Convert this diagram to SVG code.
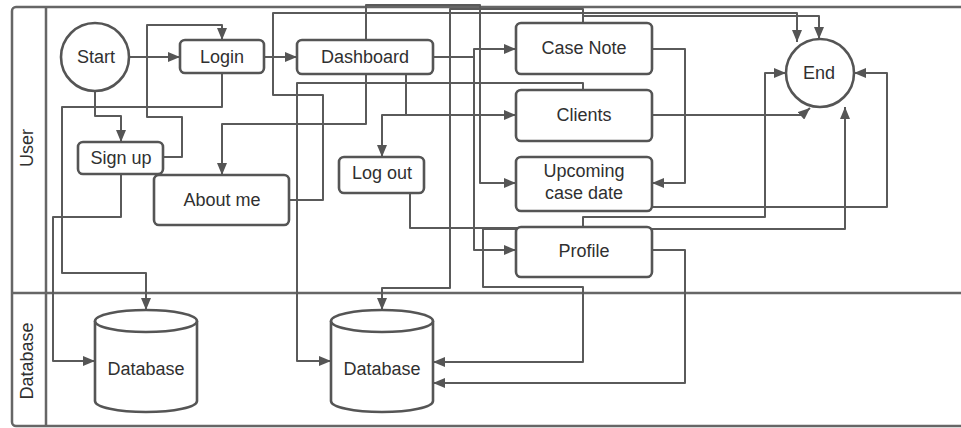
<svg xmlns="http://www.w3.org/2000/svg" width="961" height="428" viewBox="0 0 961 428">
  <defs>
    <marker id="arrow" viewBox="0 0 12 10" markerWidth="12" markerHeight="10" refX="12" refY="5" markerUnits="userSpaceOnUse" orient="auto">
      <path d="M0,0 L12,5 L0,10 z" fill="#555"/>
    </marker>
    <style>
      .lane { fill: none; stroke: #666; stroke-width: 2.5; }
      .box { fill: #fff; stroke: #555; stroke-width: 2.6; }
      .edge { fill: none; stroke: #5a5a5a; stroke-width: 2; stroke-linejoin: round; }
      .arr { marker-end: url(#arrow); }
      text { font-family: "Liberation Sans", Arial, sans-serif; font-size: 18px; fill: #303030; text-anchor: middle; }
    </style>
  </defs>

  <rect width="961" height="428" fill="#fff"/>

  <!-- swimlane frame -->
  <g id="lanes">
    <rect class="lane" x="12" y="7" width="960" height="419" rx="4"/>
    <line class="lane" x1="46" y1="7" x2="46" y2="426"/>
    <line class="lane" x1="12" y1="293" x2="961" y2="293"/>
    <text transform="translate(33,148) rotate(-90)">User</text>
    <text transform="translate(33,361) rotate(-90)">Database</text>
  </g>

  <!-- connectors -->
  <g id="connectors">
    <path class="edge arr" d="M128,57 H180"/>
    <path class="edge arr" d="M264,57 H297"/>
    <path class="edge arr" d="M95,91 V116 H121 V142"/>
    <path class="edge arr" d="M163,157 H182 V117 H147 V25 H222 V40"/>
    <path class="edge arr" d="M222,73 V107 H62 V273 H146 V310"/>
    <path class="edge arr" d="M121,174 V217 H53 V361 H95"/>
    <path class="edge arr" d="M433,57 H474 V49 H516"/>
    <path class="edge arr" d="M433,57 H474 V250 H516"/>
    <path class="edge arr" d="M366,40 V5 H480 V183 H516"/>
    <path class="edge arr" d="M366,74 V124 H222 V175"/>
    <path class="edge arr" d="M406,74 V115 H382 V157"/>
    <path class="edge arr" d="M406,74 V115 H516"/>
    <path class="edge arr" d="M583,90 V83 H297 V361 H331"/>
    <path class="edge arr" d="M289,200 H323 V95 H273 V13 H797 V42"/>
    <path class="edge arr" d="M583,23 V16 H819 V39"/>
    <path class="edge arr" d="M652,49 H685 V183 H652"/>
    <path class="edge arr" d="M652,115 H802 L810,108"/>
    <path class="edge arr" d="M652,207 H887 V73 H854"/>
    <path class="edge arr" d="M410,193 V228 H583 V217 H765 V73 H786"/>
    <path class="edge arr" d="M516,229 H845 V107"/>
    <path class="edge arr" d="M583,23 V9 H450 V288 H382 V310"/>
    <path class="edge arr" d="M516,229 H483 V287 H583 V362 H433"/>
    <path class="edge arr" d="M652,250 H685 V383 H433"/>
  </g>

  <!-- nodes -->
  <g id="start"><circle class="box" cx="95" cy="57" r="34"/><text x="96" y="63">Start</text></g>
  <g id="login"><rect class="box" x="180" y="40" width="84" height="33" rx="5"/><text x="222" y="63">Login</text></g>
  <g id="signup"><rect class="box" x="78" y="142" width="85" height="32" rx="5"/><text x="121" y="164">Sign up</text></g>
  <g id="dashboard"><rect class="box" x="297" y="40" width="136" height="34" rx="5"/><text x="365" y="63">Dashboard</text></g>
  <g id="aboutme"><rect class="box" x="154" y="175" width="135" height="50" rx="5"/><text x="222" y="206">About me</text></g>
  <g id="logout"><rect class="box" x="339" y="157" width="85" height="36" rx="5"/><text x="382" y="179">Log out</text></g>
  <g id="casenote"><rect class="box" x="516" y="23" width="136" height="51" rx="5"/><text x="584" y="54">Case Note</text></g>
  <g id="clients"><rect class="box" x="516" y="90" width="136" height="51" rx="5"/><text x="584" y="121">Clients</text></g>
  <g id="upcoming"><rect class="box" x="516" y="157" width="136" height="54" rx="5"/><text x="584" y="177">Upcoming</text><text x="584" y="199">case date</text></g>
  <g id="profile"><rect class="box" x="516" y="227" width="136" height="50" rx="5"/><text x="584" y="257">Profile</text></g>
  <g id="end"><circle class="box" cx="820" cy="73" r="34"/><text x="819" y="79">End</text></g>
  <g id="database1">
    <path class="box" d="M95,321 V401 A51,11 0 0 0 197,401 V321 A51,11 0 0 0 95,321 Z"/>
    <path class="box" d="M95,321 A51,11 0 0 0 197,321" fill="none"/>
    <text x="146" y="375">Database</text>
  </g>
  <g id="database2">
    <path class="box" d="M331,321 V401 A51,11 0 0 0 433,401 V321 A51,11 0 0 0 331,321 Z"/>
    <path class="box" d="M331,321 A51,11 0 0 0 433,321" fill="none"/>
    <text x="382" y="375">Database</text>
  </g>
</svg>
